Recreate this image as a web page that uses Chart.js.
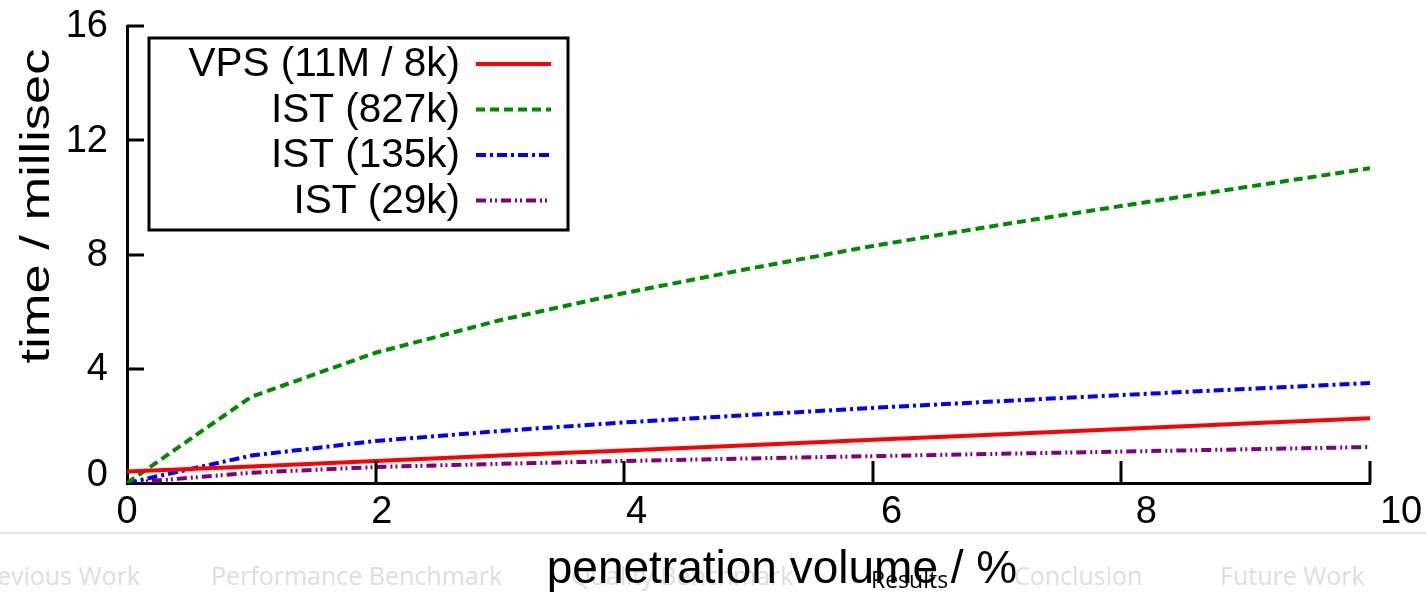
<!DOCTYPE html>
<html>
<head>
<meta charset="utf-8">
<script src="https://cdn.jsdelivr.net/npm/chart.js@4.4.1/dist/chart.umd.min.js"></script>
<style>
    html, body { margin: 0; padding: 0; background: #fff; }
    #wrap { position: relative; width: 1426px; height: 592px; overflow: hidden; }
    #chart { position: absolute; left: 0; top: 0; z-index: 2; }
    .rule { position: absolute; left: 0; top: 532px; width: 1426px; height: 2px; background: #e6e6e6; z-index: 1; }
    .nav { position: absolute; top: 558px; font-family: "Open Sans", sans-serif; font-size: 25px; color: #dedede; white-space: nowrap; z-index: 1; }
    .nav.current { color: #000; font-size: 23px; top: 563px; z-index: 3; }
</style>
</head>
<body>
<div id="wrap">
    <div class="rule"></div>
    <div class="nav" style="right: 1286px;">Previous Work</div>
    <div class="nav" style="left: 211px;">Performance Benchmark</div>
    <div class="nav" style="left: 571px;">Quality Benchmark</div>
    <div class="nav current" style="left: 871px;">Results</div>
    <div class="nav" style="left: 1014px;">Conclusion</div>
    <div class="nav" style="left: 1220px;">Future Work</div>
    <canvas id="chart" width="1426" height="592"></canvas>
</div>
<script>
// penetration volume (%)
const volumes = [0, 1, 2, 3, 4, 5, 6, 7, 8, 9, 10];

// time in millisec
const vpsTimes   = [0.40, 0.58, 0.77, 0.96, 1.14, 1.32, 1.51, 1.70, 1.89, 2.08, 2.27];
const ist827k    = [0.00, 3.02, 4.56, 5.70, 6.65, 7.50, 8.30, 9.02, 9.70, 10.36, 11.02];
const ist135k    = [0.00, 0.96, 1.47, 1.82, 2.12, 2.38, 2.63, 2.86, 3.08, 3.29, 3.50];
const ist29k     = [0.00, 0.36, 0.56, 0.67, 0.77, 0.86, 0.94, 1.02, 1.10, 1.18, 1.26];

const seriesNames = ['VPS (11M / 8k)', 'IST (827k)', 'IST (135k)', 'IST (29k)'];
const xTicks = [0, 2, 4, 6, 8, 10];
const yTicks = [0, 4, 8, 12, 16];

const FONT = '"Liberation Sans", Arial, Helvetica, sans-serif';

function toPoints(values) {
    return values.map((v, i) => ({ x: volumes[i], y: v }));
}

// inward tick marks, gnuplot style, and the tick labels
// (x labels sit a bit wider than the ticks in the original)
const innerTicks = {
    id: 'innerTicks',
    afterDraw(chart) {
        const { ctx, chartArea, scales } = chart;
        ctx.save();
        ctx.strokeStyle = '#000';
        ctx.lineWidth = 3;
        ctx.beginPath();
        xTicks.slice(1).forEach(v => {
            const px = Math.round(scales.x.getPixelForValue(v));
            ctx.moveTo(px, chartArea.bottom);
            ctx.lineTo(px, chartArea.bottom - 22);
        });
        yTicks.slice(1).forEach(v => {
            const py = Math.round(scales.y.getPixelForValue(v));
            ctx.moveTo(chartArea.left, py);
            ctx.lineTo(chartArea.left + 17, py);
        });
        ctx.stroke();

        ctx.fillStyle = '#000';
        ctx.font = '38px ' + FONT;
        ctx.textAlign = 'center';
        ctx.textBaseline = 'alphabetic';
        xTicks.forEach(v => {
            const px = scales.x.getPixelForValue(v);
            const lx = chartArea.left + (px - chartArea.left) * 1.025;
            ctx.fillText(String(v), lx, 523);
        });

        ctx.textAlign = 'right';
        ctx.textBaseline = 'middle';
        yTicks.forEach(v => {
            const py = Math.min(scales.y.getPixelForValue(v), chartArea.bottom - 8);
            ctx.fillText(String(v), 108, py + 1);
        });
        ctx.restore();
    }
};

// axis titles (the original is stretched a bit)
const axisTitles = {
    id: 'axisTitles',
    afterDraw(chart) {
        const { ctx } = chart;
        ctx.save();
        ctx.fillStyle = '#000';
        ctx.font = '46px ' + FONT;
        ctx.textAlign = 'center';
        ctx.textBaseline = 'alphabetic';
        ctx.fillText('penetration volume / %', 782, 583);

        ctx.translate(49, 206);
        ctx.rotate(-Math.PI / 2);
        ctx.scale(1.28, 1);
        ctx.font = '41px ' + FONT;
        ctx.fillText('time / millisec', 0, 0);
        ctx.restore();
    }
};

// legend box: right-aligned labels, line sample on the right
const keyBox = {
    id: 'keyBox',
    afterDraw(chart) {
        const { ctx } = chart;
        const box = { left: 149, top: 38, right: 568, bottom: 230 };
        ctx.save();
        ctx.fillStyle = '#fff';
        ctx.fillRect(box.left, box.top, box.right - box.left, box.bottom - box.top);
        ctx.strokeStyle = '#000';
        ctx.lineWidth = 3;
        ctx.strokeRect(box.left, box.top, box.right - box.left, box.bottom - box.top);

        chart.data.datasets.forEach((ds, i) => {
            const y = 64 + i * 45.5;
            ctx.fillStyle = '#000';
            ctx.font = '40.5px ' + FONT;
            ctx.textAlign = 'right';
            ctx.textBaseline = 'middle';
            ctx.fillText(ds.label, 460, y + 1);

            ctx.strokeStyle = ds.borderColor;
            ctx.lineWidth = ds.borderWidth;
            ctx.setLineDash(ds.borderDash || []);
            ctx.beginPath();
            ctx.moveTo(476, y);
            ctx.lineTo(551, y);
            ctx.stroke();
        });
        ctx.restore();
    }
};

const ctx = document.getElementById('chart').getContext('2d');

new Chart(ctx, {
    type: 'line',
    data: {
        datasets: [
            {
                label: seriesNames[0],
                data: toPoints(vpsTimes),
                borderColor: '#ff0000',
                borderWidth: 4,
                borderDash: []
            },
            {
                label: seriesNames[1],
                data: toPoints(ist827k),
                borderColor: '#008a00',
                borderWidth: 4,
                borderDash: [9, 5]
            },
            {
                label: seriesNames[2],
                data: toPoints(ist135k),
                borderColor: '#0000ff',
                borderWidth: 4,
                borderDash: [10, 4, 3, 4]
            },
            {
                label: seriesNames[3],
                data: toPoints(ist29k),
                borderColor: '#800080',
                borderWidth: 4,
                borderDash: [10, 4, 2, 3, 2, 4]
            }
        ]
    },
    options: {
        responsive: false,
        animation: false,
        events: [],
        elements: {
            point: { radius: 0 },
            line: { tension: 0 }
        },
        layout: {
            padding: { left: 0, top: 26, right: 56, bottom: 0 }
        },
        plugins: {
            legend: { display: false },
            tooltip: { enabled: false }
        },
        scales: {
            x: {
                type: 'linear',
                min: 0,
                max: 10,
                afterFit: scale => { scale.height = 109; },
                afterBuildTicks: scale => { scale.ticks = xTicks.map(v => ({ value: v })); },
                grid: { display: false, drawTicks: false },
                border: { display: true, color: '#000', width: 3 },
                ticks: { display: false }
            },
            y: {
                type: 'linear',
                min: 0,
                max: 16,
                afterFit: scale => { scale.width = 127; },
                afterBuildTicks: scale => { scale.ticks = yTicks.map(v => ({ value: v })); },
                grid: { display: false, drawTicks: false },
                border: { display: true, color: '#000', width: 3 },
                ticks: { display: false }
            }
        }
    },
    plugins: [innerTicks, axisTitles, keyBox]
});
</script>
</body>
</html>
